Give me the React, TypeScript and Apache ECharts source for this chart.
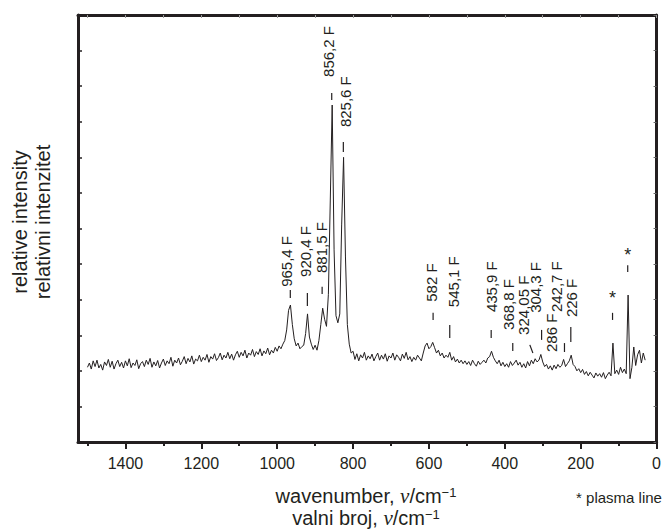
import React, { useEffect, useRef } from "react";
import * as echarts from "echarts";

// Raman spectrum, sampled every 5 cm^-1 from 1500 cm^-1 down to 30 cm^-1
const WN_START = 1500;
const WN_STEP = 5;
const intensity = [
  2.10, 2.22, 2.05, 2.28, 2.12, 2.30, 2.08, 2.18, 2.02, 2.25,
  2.15, 2.32, 2.10, 2.27, 2.05, 2.20, 2.30, 2.12, 2.24, 2.08,
  2.28, 2.14, 2.34, 2.09, 2.22, 2.15, 2.31, 2.06, 2.20, 2.26,
  2.12, 2.30, 2.18, 2.35, 2.10, 2.25, 2.14, 2.29, 2.08, 2.22,
  2.33, 2.15, 2.28, 2.20, 2.38, 2.13, 2.30, 2.22, 2.36, 2.17,
  2.27, 2.40, 2.20, 2.35, 2.25, 2.42, 2.19, 2.33, 2.28, 2.44,
  2.26, 2.38, 2.30, 2.46, 2.24, 2.40, 2.33, 2.48, 2.29, 2.37,
  2.50, 2.31, 2.44, 2.36, 2.52, 2.34, 2.47, 2.30, 2.45, 2.55,
  2.38, 2.52, 2.42, 2.58, 2.36, 2.50, 2.44, 2.60, 2.40, 2.54,
  2.46, 2.62, 2.42, 2.56, 2.48, 2.64, 2.45, 2.58, 2.50, 2.66,
  2.55, 2.70, 2.62, 2.75, 2.85, 3.15, 3.70, 3.85, 3.30, 2.90,
  2.70, 2.78, 2.62, 2.68, 2.72, 3.05, 3.60, 2.95, 2.75, 2.60,
  2.72, 2.58, 2.85, 3.30, 3.76, 3.45, 3.25, 4.15, 6.80, 9.47,
  5.40, 3.55, 3.35, 3.60, 6.10, 8.00, 5.20, 3.30, 2.75, 2.50,
  2.55, 2.32, 2.48, 2.28, 2.45, 2.36, 2.52, 2.30, 2.42, 2.34,
  2.47, 2.28, 2.40, 2.50, 2.30, 2.44, 2.33, 2.48, 2.27, 2.42,
  2.36, 2.50, 2.30, 2.45, 2.38, 2.28, 2.47, 2.35, 2.52, 2.31,
  2.40, 2.26, 2.38, 2.30, 2.44, 2.36, 2.28, 2.50, 2.70, 2.78,
  2.62, 2.68, 2.80, 2.65, 2.50, 2.58, 2.42, 2.50, 2.36, 2.44,
  2.38, 2.52, 2.30, 2.40, 2.25, 2.33, 2.22, 2.30, 2.20, 2.28,
  2.18, 2.26, 2.15, 2.30, 2.20, 2.13, 2.27, 2.18, 2.24, 2.30,
  2.22, 2.36, 2.40, 2.55, 2.38, 2.28, 2.20, 2.30, 2.14, 2.24,
  2.12, 2.20, 2.10, 2.26, 2.15, 2.22, 2.30, 2.16, 2.24, 2.10,
  2.20, 2.08, 2.26, 2.14, 2.30, 2.20, 2.34, 2.25, 2.30, 2.46,
  2.25, 2.12, 2.18, 2.05, 2.14, 2.02, 2.16, 2.06, 2.18, 2.10,
  2.15, 2.32, 2.12, 2.20, 2.28, 2.44, 2.18, 2.12, 2.00, 2.06,
  1.95, 2.04, 1.90, 1.98, 1.86, 1.96, 1.88, 1.80, 1.94, 1.85,
  1.92, 1.82, 1.95, 1.78, 1.88, 1.96, 1.86, 2.78, 1.92, 2.02,
  1.90, 2.10, 1.95, 2.05, 1.92, 4.13, 1.78, 2.10, 2.67, 2.15,
  2.45, 2.58, 2.22, 2.50, 2.30,
];

// axis ticks
const majorTicks = [0, 200, 400, 600, 800, 1000, 1200, 1400];
const minorTicks = [100, 300, 500, 700, 900, 1100, 1300, 1500];
const topTicks = [0, 100, 200, 300, 400, 500, 600, 700, 800, 900, 1000, 1100, 1200, 1300, 1400, 1500];

// peak annotations
const peakLabels = ["965,4 F", "920,4 F", "881,5 F", "856,2 F", "825,6 F", "582 F", "545,1 F", "435,9 F", "368,8 F", "324,05 F", "304,3 F", "286 F", "242,7 F", "226 F"];
const labelWn = [975, 926, 882, 866, 820, 592, 534, 434, 389, 350, 318, 276, 263, 224];
const labelY = [4.36, 4.64, 4.75, 10.26, 8.85, 3.94, 3.79, 3.65, 3.15, 3.01, 3.63, 2.53, 3.65, 3.51];
const dashWn = [965.4, 920.4, 881.5, 856.2, 825.6, 589, 545.1, 435.9, 379, 326, 303, null, 242.7, 226];
const dashTopWn = [965.4, 920.4, 881.5, 856.2, 825.6, 589, 545.1, 435.9, 379, 334, 303, null, 242.7, 226];
const dashLo = [4.05, 3.82, 4.16, 9.61, 8.15, 3.43, 2.92, 2.92, 2.56, 2.50, 2.87, null, 2.53, 2.81];
const dashHi = [4.27, 4.19, 4.36, 9.81, 8.43, 3.63, 3.29, 3.15, 2.78, 2.73, 3.15, null, 2.78, 3.23];

// plasma lines
const plasmaWn = [116, 76];
const plasmaStarY = [4.13, 5.34];
const plasmaDashLo = [3.43, 4.78];
const plasmaDashHi = [3.63, 4.97];

const INK = "#231f20";
const FONT = "'Liberation Sans', Arial, Helvetica, sans-serif";
const SERIF = "'Liberation Serif', 'DejaVu Serif', 'Times New Roman', serif";

export default function App() {
  const ref = useRef<HTMLDivElement>(null);
  useEffect(() => {
    const chart = echarts.init(ref.current!, null, { renderer: "svg" });
    const lineData = intensity.map((v, i) => [WN_START - i * WN_STEP, v]);

    const xBase = { type: "value", min: 0, max: 1525, inverse: true, splitLine: { show: false } };
    const yBase = { type: "value", min: 0, max: 12, interval: 1, splitLine: { show: false }, axisLabel: { show: false } };

    const axisTitleStyle = (text: string) => ({
      text,
      fontSize: 20,
      fontFamily: FONT,
      fill: INK,
      align: "center",
      verticalAlign: "middle",
      rich: {
        n: { fontSize: 20, fontFamily: FONT, fill: INK },
        i: { fontSize: 21, fontFamily: SERIF, fontStyle: "italic", fill: INK },
        s: { fontSize: 13, fontFamily: FONT, fill: INK, verticalAlign: "top", padding: [0, 0, 6, 0] },
      },
    });

    chart.setOption({
      animation: false,
      backgroundColor: "#ffffff",
      grid: { left: 78, right: 6, top: 15, bottom: 87 },
      xAxis: [
        {
          ...xBase,
          position: "bottom",
          axisLine: { show: true, onZero: false, lineStyle: { color: INK, width: 3 } },
          axisTick: { show: true, inside: false, length: 7, customValues: majorTicks, lineStyle: { color: INK, width: 2 } },
          axisLabel: {
            show: true,
            customValues: majorTicks,
            margin: 13,
            fontSize: 16,
            color: INK,
            fontFamily: FONT,
            formatter: (v: number) => String(v),
          },
        },
        {
          ...xBase,
          position: "bottom",
          axisLine: { show: false, onZero: false },
          axisTick: { show: true, inside: false, length: 4, customValues: minorTicks, lineStyle: { color: INK, width: 2 } },
          axisLabel: { show: false },
        },
        {
          ...xBase,
          position: "top",
          axisLine: { show: true, onZero: false, lineStyle: { color: INK, width: 3 } },
          axisTick: { show: true, inside: true, length: 3, customValues: topTicks, lineStyle: { color: "#9a9a9a", width: 1 } },
          axisLabel: { show: false },
        },
      ],
      yAxis: [
        {
          ...yBase,
          position: "left",
          axisLine: { show: true, onZero: false, lineStyle: { color: INK, width: 3 } },
          axisTick: { show: true, inside: true, length: 4, lineStyle: { color: INK, width: 1.5 } },
        },
        {
          ...yBase,
          position: "right",
          axisLine: { show: true, onZero: false, lineStyle: { color: INK, width: 3 } },
          axisTick: { show: true, inside: true, length: 3, lineStyle: { color: "#666", width: 1 } },
        },
      ],
      graphic: [
        { type: "text", x: 20, y: 222, rotation: Math.PI / 2, style: { text: "relative intensity", fontSize: 20, fontFamily: FONT, fill: INK, align: "center", verticalAlign: "middle" } },
        { type: "text", x: 43, y: 222, rotation: Math.PI / 2, style: { text: "relativni intenzitet", fontSize: 20, fontFamily: FONT, fill: INK, align: "center", verticalAlign: "middle" } },
        { type: "text", x: 366, y: 496, style: axisTitleStyle("{n|wavenumber, }{i|ν}{n|/cm}{s|−1}") },
        { type: "text", x: 366, y: 518, style: axisTitleStyle("{n|valni broj, }{i|ν}{n|/cm}{s|−1}") },
        { type: "text", x: 619, y: 497, style: { text: "* plasma line", fontSize: 15, fontFamily: FONT, fill: INK, align: "center", verticalAlign: "middle" } },
      ],
      series: [
        {
          type: "line",
          data: lineData,
          showSymbol: false,
          symbol: "none",
          lineStyle: { color: INK, width: 1 },
          xAxisIndex: 0,
          yAxisIndex: 0,
        },
        {
          type: "custom",
          xAxisIndex: 0,
          yAxisIndex: 0,
          data: peakLabels.map((_, i) => [labelWn[i], labelY[i]]),
          renderItem: (params: any, api: any) => {
            const i = params.dataIndex;
            const children: any[] = [];
            if (dashWn[i] != null) {
              const p1 = api.coord([dashTopWn[i], dashHi[i]]);
              const p2 = api.coord([dashWn[i], dashLo[i]]);
              children.push({
                type: "line",
                shape: { x1: p1[0], y1: p1[1], x2: p2[0], y2: p2[1] },
                style: { stroke: INK, lineWidth: 1.2 },
              });
            }
            const t = api.coord([labelWn[i], labelY[i]]);
            children.push({
              type: "text",
              x: t[0],
              y: t[1],
              rotation: Math.PI / 2,
              style: { text: peakLabels[i], fontSize: 15, fontFamily: FONT, fill: INK, align: "left", verticalAlign: "middle" },
            });
            return { type: "group", children };
          },
        },
        {
          type: "custom",
          xAxisIndex: 0,
          yAxisIndex: 0,
          data: plasmaWn.map((w, i) => [w, plasmaStarY[i]]),
          renderItem: (params: any, api: any) => {
            const i = params.dataIndex;
            const p1 = api.coord([plasmaWn[i], plasmaDashHi[i]]);
            const p2 = api.coord([plasmaWn[i], plasmaDashLo[i]]);
            const s = api.coord([plasmaWn[i], plasmaStarY[i]]);
            return {
              type: "group",
              children: [
                { type: "line", shape: { x1: p1[0], y1: p1[1], x2: p2[0], y2: p2[1] }, style: { stroke: INK, lineWidth: 1.2 } },
                { type: "text", x: s[0], y: s[1] + 3, style: { text: "*", fontSize: 18, fontFamily: FONT, fill: INK, align: "center", verticalAlign: "middle" } },
              ],
            };
          },
        },
      ],
    });
    return () => chart.dispose();
  }, []);
  return <div ref={ref} style={{ position: "fixed", left: 0, top: 0, width: 664, height: 529 }} />;
}
